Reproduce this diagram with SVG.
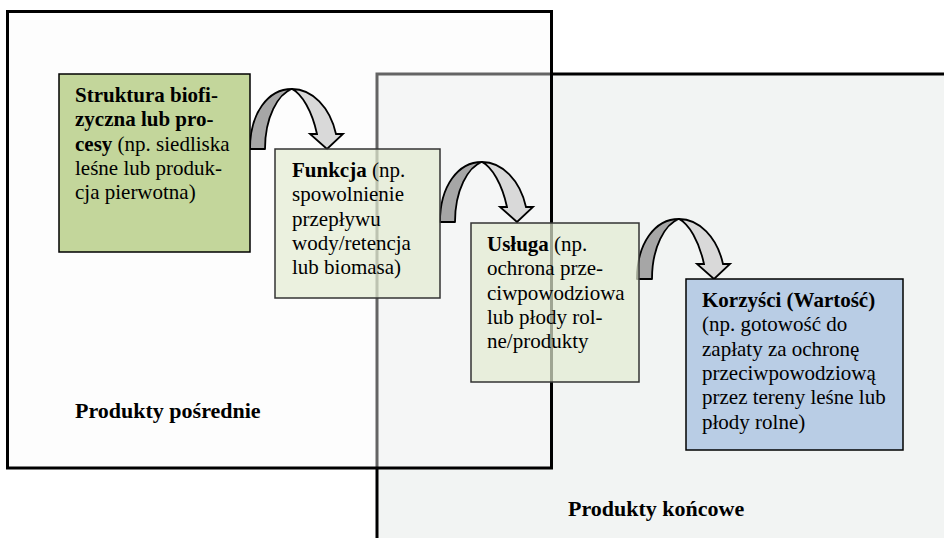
<svg xmlns="http://www.w3.org/2000/svg" width="944" height="538" viewBox="0 0 944 538">
<style>
text{font-family:"Liberation Serif","Times New Roman",Tinos,Times,"DejaVu Serif",serif;font-size:21px;fill:#000}
.b{font-weight:bold}
.lbl{font-weight:bold;font-size:22px}
.dark{fill:#a6a6a6;stroke:#000;stroke-width:1.8;stroke-linejoin:round}
.light{fill:#d9d9d9;stroke:#000;stroke-width:1.8;stroke-linejoin:miter}
</style>
<defs>
<g id="carrow">
<path class="dark" d="M0,0 C0,-36 18,-60 42,-60 C28,-55 15,-32 15,0 Z"/>
<path class="light" d="M42,-60 C62,-60 80,-42 86,-15 L93,-15 L77,0 L60,-15 L67,-15 C62,-38 52,-55 42,-60 Z"/>
</g>
</defs>
<rect width="944" height="538" fill="#ffffff"/>
<g id="final-area">
<rect x="377" y="74" width="580" height="480" fill="#f2f4f3" stroke="#000" stroke-width="3"/>
<text class="lbl" x="568" y="516">Produkty końcowe</text>
</g>
<g id="intermediate-area">
<rect x="7.5" y="11.5" width="544" height="456.5" fill="#fbfbfb" fill-opacity="0.4" stroke="#000" stroke-width="3"/>
<text class="lbl" x="75" y="418">Produkty pośrednie</text>
</g>
<g id="connectors">
<use href="#carrow" x="250" y="149"/>
<use href="#carrow" x="440" y="222"/>
<use href="#carrow" x="637" y="279"/>
</g>
<g id="structure">
<rect x="59" y="74" width="191" height="178" fill="#c3d69b" stroke="#000" stroke-width="1.5"/>
<text x="75" y="102"><tspan class="b">Struktura biofi-</tspan><tspan class="b" x="75" dy="24.3">zyczna lub pro-</tspan><tspan x="75" dy="24.3"><tspan class="b">cesy</tspan> (np. siedliska</tspan><tspan x="75" dy="24.3">leśne lub produk-</tspan><tspan x="75" dy="24.3">cja pierwotna)</tspan></text>
</g>
<g id="function">
<rect x="275" y="149" width="165" height="149" fill="#e3ebd2" fill-opacity="0.7" stroke="#333" stroke-width="1.5"/>
<text x="292" y="177"><tspan class="b">Funkcja</tspan> (np.<tspan x="292" dy="24.3">spowolnienie</tspan><tspan x="292" dy="24.3">przepływu</tspan><tspan x="292" dy="24.3">wody/retencja</tspan><tspan x="292" dy="24.3">lub biomasa)</tspan></text>
</g>
<g id="service">
<rect x="471" y="223" width="168" height="159" fill="#e3ebd2" fill-opacity="0.7" stroke="#333" stroke-width="1.5"/>
<text x="487" y="251"><tspan class="b">Usługa</tspan> (np.<tspan x="487" dy="24.3">ochrona prze-</tspan><tspan x="487" dy="24.3">ciwpowodziowa</tspan><tspan x="487" dy="24.3">lub płody rol-</tspan><tspan x="487" dy="24.3">ne/produkty</tspan></text>
</g>
<g id="benefits">
<rect x="686" y="279" width="217" height="171" fill="#b9cde5" stroke="#000" stroke-width="1.5"/>
<text x="702" y="307"><tspan class="b">Korzyści (Wartość)</tspan><tspan x="702" dy="24.3">(np. gotowość do</tspan><tspan x="702" dy="24.3">zapłaty za ochronę</tspan><tspan x="702" dy="24.3">przeciwpowodziową</tspan><tspan x="702" dy="24.3">przez tereny leśne lub</tspan><tspan x="702" dy="24.3">płody rolne)</tspan></text>
</g>
</svg>
